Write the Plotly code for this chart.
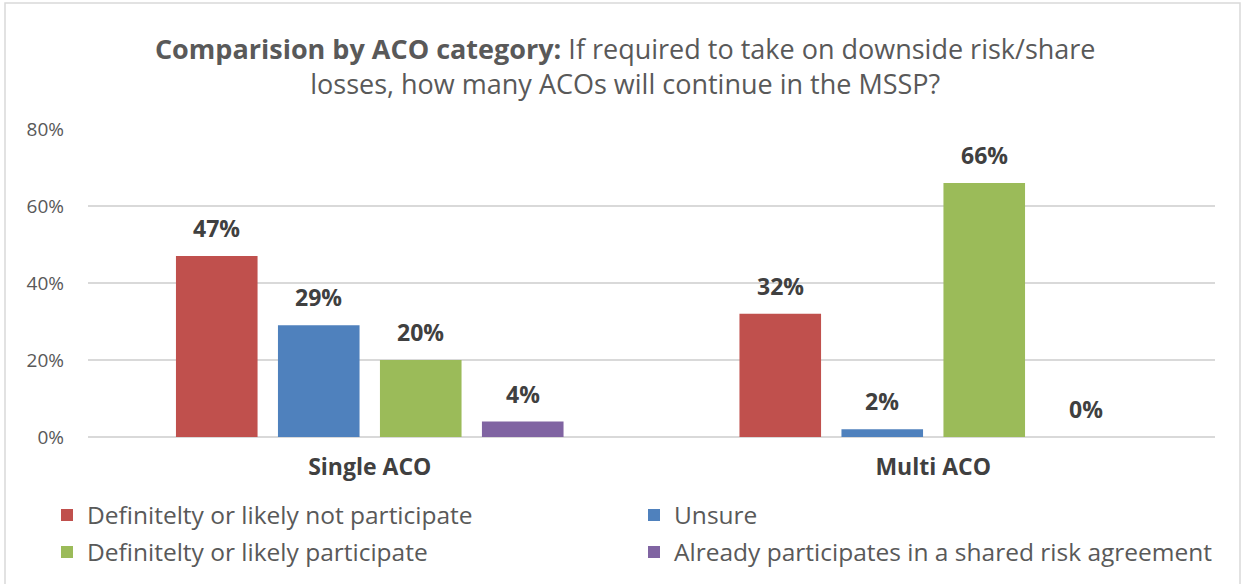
import plotly.graph_objects as go

categories = ["Single ACO", "Multi ACO"]
series_names = [
    "Definitelty or likely not participate",
    "Unsure",
    "Definitelty or likely participate",
    "Already participates in a shared risk agreement",
]
not_participate = [0.47, 0.32]
unsure = [0.29, 0.02]
participate = [0.20, 0.66]
already = [0.04, 0.00]
series_values = [not_participate, unsure, participate, already]
colors = ["#C0504D", "#4F81BD", "#9BBB59", "#8064A2"]
legend_ids = ["legend", "legend", "legend2", "legend2"]
y_ticks = [0, 0.2, 0.4, 0.6, 0.8]
y_tick_labels = ["0%", "20%", "40%", "60%", "80%"]

W, H = 1243, 584
ml, mr, mt, mb = 88, 28, 129, 147
BARGAP = 0.276
GROUPGAP = 0.2
FONT = "Open Sans"

fig = go.Figure()
n = len(series_values)
slot = (1 - BARGAP) / n
for i, (name, vals, col, lg) in enumerate(zip(series_names, series_values, colors, legend_ids)):
    fig.add_trace(go.Bar(
        name=name, x=categories, y=vals, marker_color=col, marker_line_width=0,
        hoverinfo="skip", legend=lg,
    ))
    # data labels, placed above each bar of the group
    for ci, v in enumerate(vals):
        fig.add_annotation(
            x=ci + (i - (n - 1) / 2) * slot, y=v, xref="x", yref="y",
            text=f"<b>{v*100:.0f}%</b>", showarrow=False, yanchor="middle",
            yshift=28, font=dict(size=23, color="#404040", family=FONT),
        )

pw = W - ml - mr
ph = H - mt - mb
fig.add_shape(type="rect", xref="paper", yref="paper",
              x0=(5 - ml) / pw, x1=(W - 3 - ml) / pw,
              y0=-(H + 5 - mt - ph) / ph, y1=1 + (mt - 3) / ph,
              line=dict(color="#D9D9D9", width=1.5), fillcolor="rgba(0,0,0,0)", layer="below")

leg_common = dict(orientation="h", xanchor="left", yanchor="middle",
                  entrywidth=542, entrywidthmode="pixels",
                  font=dict(size=24.5, color="#595959", family=FONT),
                  traceorder="normal", itemclick=False, itemdoubleclick=False,
                  bgcolor="rgba(0,0,0,0)")

fig.update_layout(
    width=W, height=H,
    margin=dict(l=ml, r=mr, t=mt, b=mb, autoexpand=False),
    paper_bgcolor="white", plot_bgcolor="white",
    font=dict(family=FONT, color="#595959"),
    title=dict(
        text="<b>Comparision by ACO category:</b> If required to take on downside risk/share<br>losses, how many ACOs will continue in the MSSP?",
        x=0.503, xanchor="center", y=1 - 59 / H, yanchor="middle",
        font=dict(size=27, color="#595959", family=FONT),
    ),
    barmode="group", bargap=BARGAP, bargroupgap=GROUPGAP,
    xaxis=dict(showgrid=False, showline=False, ticks="",
               tickfont=dict(size=23, color="#404040", family=FONT),
               ticklabelstandoff=14, range=[-0.5, 1.5]),
    yaxis=dict(range=[0, 0.8], tickvals=y_ticks, ticktext=y_tick_labels,
               showgrid=True, gridcolor="#D9D9D9", gridwidth=1.5, zeroline=True,
               zerolinecolor="#D9D9D9", zerolinewidth=1.5, showline=False,
               tickfont=dict(size=19, color="#595959", family=FONT),
               ticklabelstandoff=23),
    legend=dict(x=(47 - ml) / pw, y=(ph - (515 - mt)) / ph, **leg_common),
    legend2=dict(x=(47 - ml) / pw, y=(ph - (552 - mt)) / ph, **leg_common),
    showlegend=True,
)
fig.update_xaxes(tickvals=categories, ticktext=[f"<b>{c}</b>" for c in categories])

fig.write_html("out.html", config={"displayModeBar": False},
               post_script="document.body.style.margin='0';document.body.style.overflow='hidden';")
